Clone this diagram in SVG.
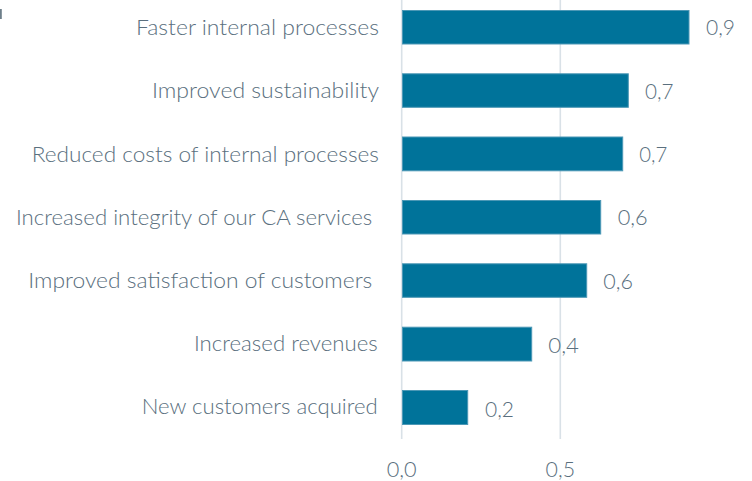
<svg xmlns="http://www.w3.org/2000/svg" width="752" height="481" viewBox="0 0 752 481">
<style>
.grid{stroke:#d9e1e7;stroke-width:1.6;fill:none}
.bar{fill:#00739a;stroke:#4c98b6;stroke-width:1}
.lbl{font-family:Lato,"Liberation Sans",Arial,sans-serif;font-weight:300;font-size:22px;fill:#5a6f7e}
.val{font-family:Lato,"Liberation Sans",Arial,sans-serif;font-weight:300;font-size:21px;fill:#5a6f7e}
.ax{font-family:Lato,"Liberation Sans",Arial,sans-serif;font-weight:300;font-size:21px;fill:#5a6f7e;text-anchor:middle}
</style>
<rect x="0" y="9" width="1.8" height="10" fill="#6e7f8a"/>
<g id="gridlines">
<line class="grid" x1="401.7" y1="0" x2="401.7" y2="439"/>
<line class="grid" x1="560.3" y1="0" x2="560.3" y2="439"/>
</g>
<g id="axis">
<text class="ax" x="401.7" y="476.5" textLength="30" lengthAdjust="spacingAndGlyphs">0,0</text>
<text class="ax" x="560.3" y="476.5" textLength="29.5" lengthAdjust="spacingAndGlyphs">0,5</text>
</g>
<g id="bar1">
<rect class="bar" x="402.5" y="10.5" width="286.5" height="33.5"/>
<text class="lbl" x="136" y="34.5" textLength="243" lengthAdjust="spacingAndGlyphs">Faster internal processes</text>
<text class="val" x="706" y="35" textLength="29" lengthAdjust="spacingAndGlyphs">0,9</text>
</g>
<g id="bar2">
<rect class="bar" x="402.5" y="73.8" width="225.8" height="33.5"/>
<text class="lbl" x="152" y="98" textLength="227" lengthAdjust="spacingAndGlyphs">Improved sustainability</text>
<text class="val" x="645" y="98.7" textLength="28.5" lengthAdjust="spacingAndGlyphs">0,7</text>
</g>
<g id="bar3">
<rect class="bar" x="402.5" y="137" width="220.2" height="33.8"/>
<text class="lbl" x="31.7" y="161.5" textLength="347.3" lengthAdjust="spacingAndGlyphs">Reduced costs of internal processes</text>
<text class="val" x="639.3" y="161.7" textLength="28" lengthAdjust="spacingAndGlyphs">0,7</text>
</g>
<g id="bar4">
<rect class="bar" x="402.5" y="200.5" width="198.2" height="33.5"/>
<text class="lbl" x="16" y="225" textLength="356.3" lengthAdjust="spacingAndGlyphs">Increased integrity of our CA services</text>
<text class="val" x="617.7" y="225" textLength="30" lengthAdjust="spacingAndGlyphs">0,6</text>
</g>
<g id="bar5">
<rect class="bar" x="402.5" y="263.8" width="184.2" height="33.5"/>
<text class="lbl" x="28.3" y="288" textLength="344" lengthAdjust="spacingAndGlyphs">Improved satisfaction of customers</text>
<text class="val" x="603.3" y="289" textLength="29.7" lengthAdjust="spacingAndGlyphs">0,6</text>
</g>
<g id="bar6">
<rect class="bar" x="402.5" y="327.2" width="129.2" height="33.8"/>
<text class="lbl" x="194" y="351.2" textLength="183.7" lengthAdjust="spacingAndGlyphs">Increased revenues</text>
<text class="val" x="548.3" y="353.2" textLength="30.7" lengthAdjust="spacingAndGlyphs">0,4</text>
</g>
<g id="bar7">
<rect class="bar" x="402.5" y="390.5" width="65.2" height="34"/>
<text class="lbl" x="141.7" y="414" textLength="236" lengthAdjust="spacingAndGlyphs">New customers acquired</text>
<text class="val" x="485" y="416.7" textLength="29" lengthAdjust="spacingAndGlyphs">0,2</text>
</g>
</svg>
